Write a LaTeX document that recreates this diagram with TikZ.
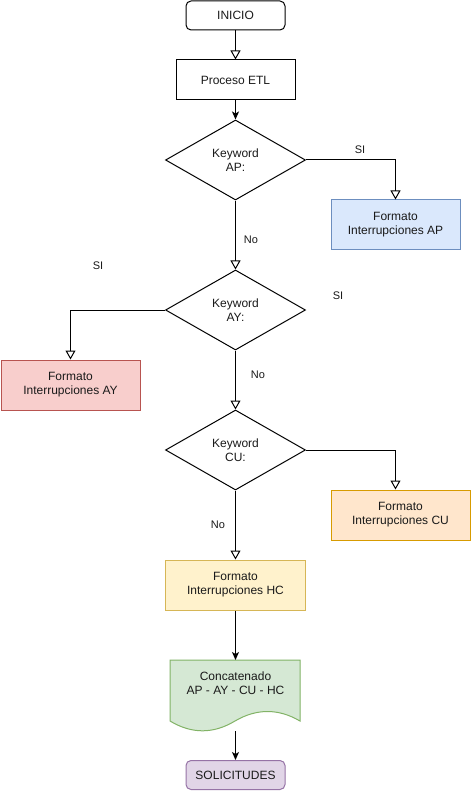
\documentclass[tikz,border=0pt]{standalone}
\usepackage{fontspec}
\setmainfont{Liberation Sans}
\usetikzlibrary{shapes.geometric,arrows.meta}

% fill / stroke pairs of the boxes
\definecolor{apfill}{HTML}{DAE8FC}\definecolor{apline}{HTML}{6C8EBF}
\definecolor{ayfill}{HTML}{F8CECC}\definecolor{ayline}{HTML}{B85450}
\definecolor{cufill}{HTML}{FFE6CC}\definecolor{culine}{HTML}{D79B00}
\definecolor{hcfill}{HTML}{FFF2CC}\definecolor{hcline}{HTML}{D6B656}
\definecolor{docfill}{HTML}{D5E8D4}\definecolor{docline}{HTML}{82B366}
\definecolor{solfill}{HTML}{E1D5E7}\definecolor{solline}{HTML}{9673A6}
\definecolor{ink}{HTML}{1A1A1A}

\begin{document}
\begin{tikzpicture}[x=1pt,y=-1pt,
  every node/.style={font=\fontsize{12}{14}\selectfont, align=center, text=ink},
  shapebox/.style={draw=black, line width=1pt, inner sep=0pt},
  procbox/.style={shapebox, minimum width=#1, minimum height=50pt},
  decision/.style={shapebox, diamond, minimum width=140pt, minimum height=80pt},
  terminal/.style={shapebox, rounded corners=5pt, minimum width=99pt, minimum height=29pt},
  edgelabel/.style={font=\fontsize{11}{13}\selectfont, inner sep=0pt},
  link/.style={draw=black, line width=1pt},
  openarrow/.style={link, -{Triangle[open, length=9pt, width=10pt]}},
  fullarrow/.style={link, -{Stealth[length=8pt, width=7pt, inset=2pt]}}
]
% canvas
\fill[white] (0,0) rectangle (471,791);
\useasboundingbox (0,0) rectangle (471,791);

% main column
\node[terminal] (inicio) at (235.5,15.5) {INICIO};
\node[shapebox, minimum width=119pt, minimum height=40pt] (etl) at (235.5,80) {Proceso ETL};
\node[decision] (kap) at (235.5,160) {Keyword\\AP:};
\node[decision] (kay) at (235.5,310) {Keyword\\AY:};
\node[decision] (kcu) at (235.5,450) {Keyword\\CU:};
\node[procbox=140pt, fill=hcfill, draw=hcline] (hc) at (235.5,585) {Formato\\Interrupciones HC};

% side outputs
\node[procbox=129pt, fill=apfill, draw=apline] (apbox) at (395.5,225) {Formato\\Interrupciones AP};
\node[procbox=139pt, fill=ayfill, draw=ayline] (aybox) at (70.5,385) {Formato\\Interrupciones AY};
\node[procbox=139pt, fill=cufill, draw=culine] (cubox) at (400.5,515) {Formato\\Interrupciones CU};

% document with wavy bottom
\filldraw[fill=docfill, draw=docline, line width=1pt]
  (170,660) -- (300,660) -- (300,721)
  .. controls (278.33,708.33) and (256.67,708.33) .. (235,721)
  .. controls (213.33,734.07) and (191.67,734.07) .. (170,721) -- cycle;
\node (doc) at (235.5,683) {Concatenado\\AP - AY - CU - HC};
\coordinate (doctop) at (235.5,660);
\coordinate (docbottom) at (235.5,731);

\node[terminal, fill=solfill, draw=solline] (sol) at (235.5,775) {SOLICITUDES};

% connectors
\draw[openarrow] (inicio) -- (etl);
\draw[fullarrow] (etl) -- (kap);
\draw[openarrow] (kap.east) -| (apbox.north);
\draw[openarrow] (kap) -- (kay);
\draw[openarrow] (kay.west) -| (aybox.north);
\draw[openarrow] (kay) -- (kcu);
\draw[openarrow] (kcu.east) -| ([xshift=-5pt]cubox.north);
\draw[openarrow] (kcu) -- (hc);
\draw[fullarrow] (hc) -- (doctop);
\draw[fullarrow] (docbottom) -- (sol);

% branch labels
\node[edgelabel] (siap) at (360,150) {SI};
\node[edgelabel] (noap) at (251,240) {No};
\node[edgelabel] (siayl) at (98,266) {SI};
\node[edgelabel] (siayr) at (338,296) {SI};
\node[edgelabel] (noay) at (258,375) {No};
\node[edgelabel] (nocu) at (218,525) {No};
\end{tikzpicture}
\end{document}
